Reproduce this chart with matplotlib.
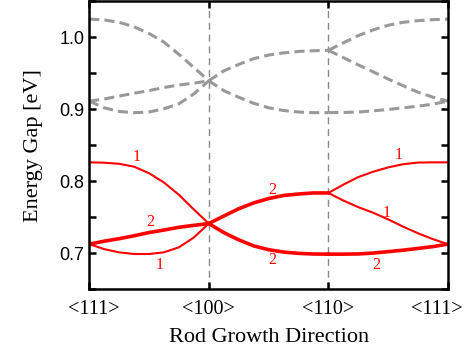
import numpy as np
import matplotlib.pyplot as plt
import matplotlib.transforms as mtransforms
from matplotlib.ticker import MultipleLocator

# fractional position along each path segment
t = np.array([0, 0.125, 0.25, 0.375, 0.5, 0.625, 0.75, 0.875, 1.0])
directions = ['<111>', '<100>', '<110>', '<111>']

# red bands (eV), one list per segment: <111>-<100>, <100>-<110>, <110>-<111>
red_a1 = [0.826, 0.8255, 0.824, 0.820, 0.811, 0.798, 0.781, 0.7605, 0.741]
red_a2 = [0.7124, 0.7165, 0.720, 0.724, 0.7285, 0.732, 0.7358, 0.7385, 0.741]
red_a3 = [0.7124, 0.7055, 0.701, 0.6987, 0.6987, 0.701, 0.708, 0.7216, 0.741]
red_b1 = [0.741, 0.7514, 0.7615, 0.7697, 0.7757, 0.780, 0.782, 0.7835, 0.7835]
red_b2 = [0.741, 0.7285, 0.7184, 0.710, 0.7047, 0.7014, 0.6996, 0.6987, 0.6985]
red_c1 = [0.7835, 0.795, 0.8055, 0.813, 0.819, 0.8234, 0.8257, 0.826, 0.826]
red_c2 = [0.7835, 0.773, 0.7638, 0.756, 0.7468, 0.7367, 0.7275, 0.7193, 0.7124]
red_c3 = [0.6985, 0.6985, 0.6988, 0.700, 0.702, 0.704, 0.7065, 0.709, 0.7124]

# grey bands (eV)
grey_a1 = [1.025, 1.0238, 1.0205, 1.0142, 1.005, 0.993, 0.976, 0.9578, 0.9393]
grey_a2 = [0.911, 0.914, 0.918, 0.922, 0.9256, 0.930, 0.9334, 0.936, 0.9393]
grey_a3 = [0.911, 0.9018, 0.8967, 0.895, 0.8959, 0.9004, 0.9073, 0.921, 0.9393]
grey_b1 = [0.9393, 0.953, 0.962, 0.970, 0.975, 0.978, 0.980, 0.981, 0.9816]
grey_b2 = [0.9393, 0.9256, 0.9165, 0.908, 0.9018, 0.898, 0.8959, 0.895, 0.895]
grey_c1 = [0.9816, 0.992, 1.002, 1.010, 1.0164, 1.0205, 1.0228, 1.0242, 1.025]
grey_c2 = [0.9816, 0.9715, 0.9614, 0.9517, 0.9417, 0.9325, 0.9234, 0.9165, 0.911]
grey_c3 = [0.895, 0.8953, 0.8959, 0.8975, 0.8995, 0.9017, 0.904, 0.9068, 0.911]

# degeneracy labels: (x, energy, text)
labels = [(0.40, 0.834, '1'), (0.51, 0.743, '2'), (0.59, 0.683, '1'),
          (1.53, 0.788, '2'), (1.53, 0.690, '2'),
          (2.59, 0.836, '1'), (2.49, 0.756, '1'), (2.40, 0.684, '2')]

fig = plt.figure(figsize=(4.72, 3.56), dpi=100)
ax = fig.add_axes([0.189, 0.188, 0.760, 0.809])

grey = '#999999'
for seg, curves in enumerate([(grey_a1, grey_a2, grey_a3),
                              (grey_b1, grey_b2),
                              (grey_c1, grey_c2, grey_c3)]):
    for c in curves:
        ax.plot(seg + t, c, color=grey, lw=2.2, dashes=(3.3, 1.7))

thin, thick = 1.5, 2.6
red_sets = [[(red_a1, thin), (red_a2, thick), (red_a3, thin)],
            [(red_b1, thick), (red_b2, thick)],
            [(red_c1, thin), (red_c2, thin), (red_c3, thick)]]
for seg, curves in enumerate(red_sets):
    for c, w in curves:
        ax.plot(seg + t, c, color='red', lw=w, solid_joinstyle='round')

for x in (1, 2):
    ax.axvline(x, color='#888888', lw=1.0, dashes=(5, 3.5), zorder=0)

for x, y, s in labels:
    ax.text(x, y, s, color='red', fontsize=11.5, family='Liberation Serif',
            ha='center', va='center')

ax.set_xlim(0, 3)
ax.set_ylim(0.65, 1.05)
ax.set_xticks(range(4))
ax.set_xticklabels(directions, family='Liberation Serif', fontsize=14.5)
ax.yaxis.set_major_locator(MultipleLocator(0.1))
ax.yaxis.set_minor_locator(MultipleLocator(0.05))
for lab in ax.get_yticklabels():
    lab.set_family('Liberation Sans')
    lab.set_fontsize(13)
ax.tick_params(which='both', direction='in', top=True, right=True,
               length=5, width=1.8)
ax.tick_params(axis='x', pad=8)
for sp in ax.spines.values():
    sp.set_linewidth(1.8)

# nudge the end labels inward so they stay on the canvas
xlabs = ax.get_xticklabels()
for lab, dx in ((xlabs[0], 5), (xlabs[-1], -11)):
    lab.set_transform(lab.get_transform() +
                      mtransforms.ScaledTranslation(dx / 100, 0, fig.dpi_scale_trans))

ax.set_xlabel('Rod Growth Direction', family='Liberation Serif', fontsize=16,
              labelpad=6)
ax.set_ylabel('Energy Gap [eV]', family='Liberation Serif', fontsize=16,
              labelpad=12)

fig.savefig('out.png', dpi=100)
